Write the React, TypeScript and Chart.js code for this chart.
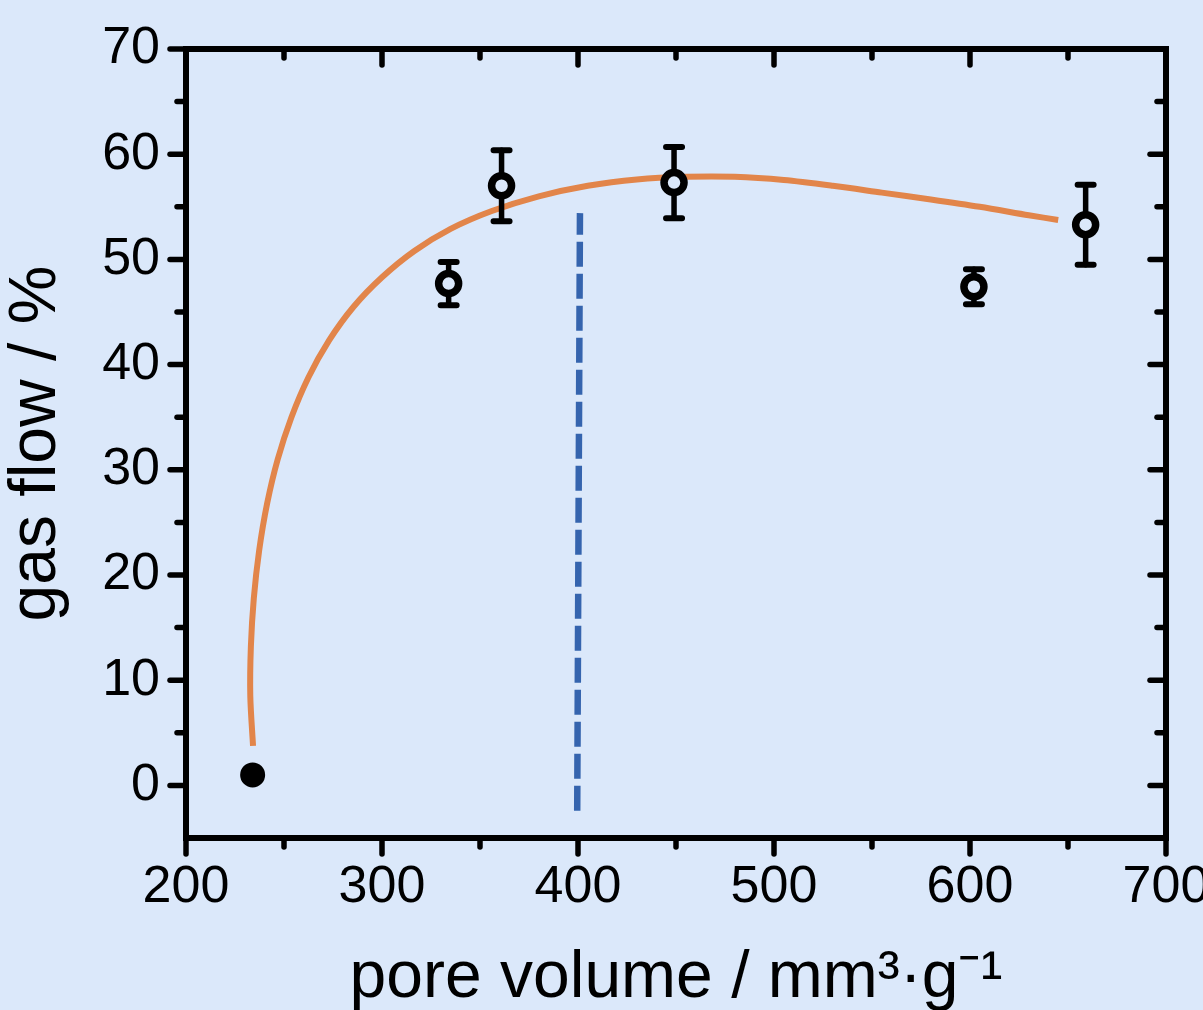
import React, { useEffect, useRef } from "react";
import { Chart, registerables } from "chart.js";

Chart.register(...registerables);

// ---- data ----
const pointX = [334, 361, 449, 602, 659];
const pointY = [47.7, 57.0, 57.3, 47.4, 53.3];
const pointErr = [2.05, 3.37, 3.38, 1.67, 3.8];

const refX = [234];
const refY = [1.0];

const fitX = [234.2, 232.8, 233.1, 234.6, 237.3, 241.4, 246.8, 253.8, 262.5, 273.0, 285.5, 300.0, 316.5, 335.0, 356.0, 380.0, 405.0, 430.0, 455.0, 480.0, 505.0, 530.0, 555.0, 580.0, 605.0, 630.0, 645.0];
const fitY = [3.75, 8.5, 13.2, 17.8, 22.3, 26.8, 31.0, 35.0, 38.8, 42.3, 45.5, 48.3, 50.8, 52.9, 54.6, 56.0, 57.0, 57.6, 57.85, 57.85, 57.55, 57.0, 56.35, 55.7, 55.0, 54.2, 53.75];

const markerX = [399.6, 401.0];
const markerY = [-2.4, 54.4];

const xMajorTicks = [200, 300, 400, 500, 600, 700];
const xMinorTicks = [250, 350, 450, 550, 650];
const yMajorTicks = [0, 10, 20, 30, 40, 50, 60, 70];
const yMinorTicks = [5, 15, 25, 35, 45, 55, 65];

const xTitle = "pore volume / mm³·g⁻¹";
const yTitle = "gas flow / %";

const BG = "#dbe8fa";
const FONT = "'Liberation Sans', Arial, sans-serif";

const toXY = (xs: number[], ys: number[]) => xs.map((x, i) => ({ x, y: ys[i] }));

const framePlugin = {
  id: "frameAndTicks",
  beforeDraw(chart: any) {
    const { ctx, width, height } = chart;
    ctx.save();
    ctx.fillStyle = BG;
    ctx.fillRect(0, 0, width, height);
    ctx.restore();
  },
  afterDatasetDraw(chart: any, args: any) {
    if (args.index !== 2) return;
    const { ctx, scales } = chart;
    const xs = scales.x;
    const ys = scales.y;
    ctx.save();
    ctx.strokeStyle = "#000";
    ctx.lineWidth = 5.5;
    ctx.lineCap = "round";
    pointX.forEach((xv, i) => {
      const px = xs.getPixelForValue(xv);
      const pTop = ys.getPixelForValue(pointY[i] + pointErr[i]);
      const pBot = ys.getPixelForValue(pointY[i] - pointErr[i]);
      ctx.beginPath();
      ctx.moveTo(px, pTop);
      ctx.lineTo(px, pBot);
      ctx.stroke();
      ctx.lineWidth = 6;
      ctx.beginPath();
      ctx.moveTo(px - 8, pTop);
      ctx.lineTo(px + 8, pTop);
      ctx.moveTo(px - 8, pBot);
      ctx.lineTo(px + 8, pBot);
      ctx.stroke();
      ctx.lineWidth = 5.5;
    });
    ctx.restore();
  },
  afterDraw(chart: any) {
    const { ctx, chartArea, scales } = chart;
    const { left, right, top, bottom } = chartArea;
    const xs = scales.x;
    const ys = scales.y;
    ctx.save();
    ctx.strokeStyle = "#000";
    ctx.lineWidth = 5.5;
    ctx.lineCap = "round";
    const seg = (x1: number, y1: number, x2: number, y2: number) => {
      ctx.beginPath();
      ctx.moveTo(x1, y1);
      ctx.lineTo(x2, y2);
      ctx.stroke();
    };
    xMajorTicks.forEach((v) => {
      const p = xs.getPixelForValue(v);
      seg(p, bottom, p, bottom + 16);
      seg(p, top, p, top + 16);
    });
    xMinorTicks.forEach((v) => {
      const p = xs.getPixelForValue(v);
      seg(p, bottom, p, bottom + 9);
      seg(p, top, p, top + 9);
    });
    yMajorTicks.forEach((v) => {
      const p = ys.getPixelForValue(v);
      seg(left - 16, p, left, p);
      seg(right - 16, p, right, p);
    });
    yMinorTicks.forEach((v) => {
      const p = ys.getPixelForValue(v);
      seg(left - 9, p, left, p);
      seg(right - 9, p, right, p);
    });
    ctx.lineWidth = 6;
    ctx.lineCap = "butt";
    ctx.lineJoin = "miter";
    ctx.strokeRect(left, top, right - left, bottom - top);
    ctx.restore();
  },
};

export default function App() {
  const canvasRef = useRef<HTMLCanvasElement | null>(null);

  useEffect(() => {
    document.body.style.margin = "0";
    document.body.style.background = BG;
    const canvas = canvasRef.current;
    if (!canvas) return;
    const chart = new Chart(canvas, {
      type: "scatter",
      data: {
        datasets: [
          {
            label: "measured",
            data: toXY(pointX, pointY),
            showLine: false,
            pointRadius: 10,
            pointHoverRadius: 10,
            borderWidth: 7.5,
            borderColor: "#000",
            backgroundColor: BG,
          },
          {
            label: "reference",
            data: toXY(refX, refY),
            showLine: false,
            pointRadius: 10,
            pointHoverRadius: 10,
            borderWidth: 5,
            borderColor: "#000",
            backgroundColor: "#000",
          },
          {
            label: "fit",
            data: toXY(fitX, fitY),
            showLine: true,
            tension: 0.3,
            pointRadius: 0,
            borderWidth: 6,
            borderColor: "#e2854a",
            backgroundColor: "#e2854a",
          },
          {
            label: "marker",
            data: toXY(markerX, markerY),
            showLine: true,
            pointRadius: 0,
            borderWidth: 6.5,
            borderDash: [25, 7],
            borderColor: "#3564ae",
            backgroundColor: "#3564ae",
          },
        ],
      },
      options: {
        responsive: false,
        animation: false,
        devicePixelRatio: 1,
        layout: { padding: { top: 49, right: 37, left: 0, bottom: 0 } },
        plugins: {
          legend: { display: false },
          tooltip: { enabled: false },
        },
        events: [],
        scales: {
          x: {
            type: "linear",
            min: 200,
            max: 700,
            afterBuildTicks: (scale: any) => {
              scale.ticks = xMajorTicks.map((v) => ({ value: v }));
            },
            afterFit: (scale: any) => {
              scale.height = 172;
              scale.paddingLeft = 0;
              scale.paddingRight = 0;
            },
            grid: { display: false, drawTicks: false },
            border: { display: false },
            ticks: {
              color: "#000",
              font: { family: FONT, size: 52 },
              padding: 18,
              maxRotation: 0,
              minRotation: 0,
              autoSkip: false,
            },
            title: {
              display: true,
              text: xTitle,
              color: "#000",
              font: { family: FONT, size: 66, lineHeight: 1 },
              padding: { top: 0, bottom: -2 },
            },
          },
          y: {
            type: "linear",
            min: -5,
            max: 70,
            afterBuildTicks: (scale: any) => {
              scale.ticks = yMajorTicks.map((v) => ({ value: v }));
            },
            afterFit: (scale: any) => {
              scale.width = 186;
              scale.paddingTop = 0;
              scale.paddingBottom = 0;
            },
            grid: { display: false, drawTicks: false },
            border: { display: false },
            ticks: {
              color: "#000",
              font: { family: FONT, size: 52 },
              padding: 26,
              autoSkip: false,
            },
            title: {
              display: true,
              text: yTitle,
              color: "#000",
              font: { family: FONT, size: 66, lineHeight: 1 },
              padding: { top: 4, bottom: 0 },
            },
          },
        },
      },
      plugins: [framePlugin],
    } as any);
    return () => chart.destroy();
  }, []);

  return (
    <div style={{ width: 1203, height: 1010, background: BG, position: "absolute", left: 0, top: 0 }}>
      <canvas ref={canvasRef} width={1203} height={1010} style={{ display: "block" }} />
    </div>
  );
}
